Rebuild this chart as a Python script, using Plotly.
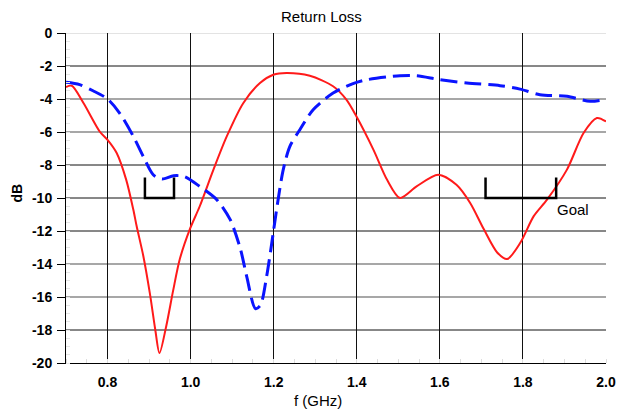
import plotly.graph_objects as go

# Data
red_f = [0.700, 0.714, 0.742, 0.782, 0.800, 0.822, 0.845, 0.862, 0.870, 0.886, 0.902, 0.915,
         0.925, 0.941, 0.958, 0.974, 0.998, 1.022, 1.055, 1.087, 1.127, 1.167, 1.199, 1.231,
         1.287, 1.343, 1.375, 1.399, 1.440, 1.473, 1.504, 1.544, 1.596, 1.640, 1.673,
         1.706, 1.738, 1.762, 1.794, 1.826, 1.858, 1.906, 1.946, 1.978, 2.000]
red_db = [-3.27, -3.2, -4.24, -6.0, -6.47, -7.27, -8.9, -10.7, -11.7, -13.5, -15.8, -18.0,
          -19.4, -17.8, -15.6, -13.7, -11.9, -10.5, -8.28, -6.27, -4.24, -3.03, -2.53, -2.42,
          -2.59, -3.23, -4.04, -5.05, -7.07, -8.9, -10.0, -9.3, -8.59, -9.2, -10.3,
          -11.9, -13.3, -13.7, -12.7, -11.1, -10.1, -8.28, -6.06, -5.15, -5.36]

blue_f = [0.700, 0.733, 0.765, 0.800, 0.829, 0.862, 0.886, 0.910, 0.931, 0.959, 0.985, 1.022,
          1.063, 1.095, 1.120, 1.135, 1.156, 1.168, 1.183, 1.199, 1.207, 1.223, 1.239, 1.263,
          1.295, 1.343, 1.391, 1.425, 1.504, 1.545, 1.600, 1.665, 1.745, 1.793, 1.841, 1.906,
          1.962, 1.995, 2.000]
blue_db = [-2.99, -3.13, -3.5, -4.0, -4.85, -6.26, -7.48, -8.59, -8.85, -8.65, -8.7, -9.3,
           -10.1, -11.3, -13.1, -14.75, -16.7, -16.5, -14.75, -12.1, -10.7, -8.28, -6.87, -5.86,
           -4.65, -3.64, -3.07, -2.83, -2.59, -2.59, -2.83, -3.03, -3.19, -3.4, -3.74, -3.84,
           -4.14, -4.04, -4.0]

goal_ranges = [(0.89, 0.96), (1.71, 1.88)]
goal_level = -10
goal_tick_top = -8.75

x_ticks = [0.8, 1.0, 1.2, 1.4, 1.6, 1.8, 2.0]
x_labels = ["0.8", "1.0", "1.2", "1.4", "1.6", "1.8", "2.0"]
y_ticks = [0, -2, -4, -6, -8, -10, -12, -14, -16, -18, -20]
y_labels = ["0", "-2", "-4", "-6", "-8", "-10", "-12", "-14", "-16", "-18", "-20"]
gray_grid = [-4, -6, -14, -16]
black_grid = [-2, -8, -10, -12, -18]

FONT = "Liberation Sans, Arial, Helvetica"

fig = go.Figure()

shapes = []
for g in black_grid:
    shapes.append(dict(type="line", xref="paper", yref="y", x0=0, x1=1, y0=g, y1=g,
                       line=dict(color="#111111", width=1), layer="below"))
for g in gray_grid:
    shapes.append(dict(type="line", xref="paper", yref="y", x0=0, x1=1, y0=g, y1=g,
                       line=dict(color="#8a8a8a", width=1.5), layer="below"))
shapes.append(dict(type="line", xref="paper", yref="y", x0=0, x1=1, y0=0, y1=0,
                   line=dict(color="#c8c8c8", width=1), layer="below"))

fig.add_trace(go.Scatter(x=red_f, y=red_db, mode="lines",
                         line=dict(color="#ff1a1a", width=2, shape="spline", smoothing=0.8),
                         showlegend=False, hoverinfo="skip"))
fig.add_trace(go.Scatter(x=blue_f, y=blue_db, mode="lines",
                         line=dict(color="#0a14ff", width=3, shape="spline", smoothing=0.8,
                                   dash="17px,7px"),
                         showlegend=False, hoverinfo="skip"))
for (a, b) in goal_ranges:
    fig.add_trace(go.Scatter(x=[a, a, b, b], y=[goal_tick_top, goal_level, goal_level, goal_tick_top],
                             mode="lines", line=dict(color="black", width=2.5),
                             showlegend=False, hoverinfo="skip"))

fig.add_annotation(x=goal_ranges[1][1], y=-10.67, text="Goal", showarrow=False,
                   xanchor="left", yanchor="middle", xshift=-1,
                   font=dict(family=FONT, size=15, color="black"))
fig.add_annotation(xref="paper", yref="paper", x=0.473, y=1.0515, text="Return Loss",
                   showarrow=False, xanchor="center", yanchor="middle",
                   font=dict(family=FONT, size=15, color="black"))
fig.add_annotation(xref="paper", yref="paper", x=0.4667, y=-0.115, text="f (GHz)",
                   showarrow=False, xanchor="center", yanchor="middle",
                   font=dict(family=FONT, size=15, color="black"))
fig.add_annotation(xref="paper", yref="paper", x=-0.0898, y=0.515, text="<b>dB</b>",
                   showarrow=False, xanchor="center", yanchor="middle", textangle=-90,
                   font=dict(family=FONT, size=14, color="black"))

fig.update_layout(
    width=618, height=412,
    margin=dict(l=66, r=12, t=33, b=49),
    paper_bgcolor="white", plot_bgcolor="white",
    shapes=shapes,
    font=dict(family=FONT, color="black"),
    xaxis=dict(range=[0.7, 2.0], tickvals=x_ticks, ticktext=x_labels, automargin=False,
               showgrid=True, gridcolor="#111111", gridwidth=1,
               showline=True, linecolor="black", linewidth=1,
               ticks="", zeroline=False, ticklabelstandoff=6,
               tickfont=dict(family=FONT, size=14, weight="bold"),
               minor=dict(dtick=0.05, tick0=0.7, ticks="inside", ticklen=4, tickcolor="#dddddd",
                          showgrid=False)),
    yaxis=dict(range=[-20, 0], tickvals=y_ticks, ticktext=y_labels, automargin=False,
               showgrid=False, showline=True, linecolor="black", linewidth=1,
               ticks="outside", ticklen=8, tickcolor="black", tickwidth=1,
               zeroline=False, ticklabelstandoff=2,
               tickfont=dict(family=FONT, size=14, weight="bold"),
               minor=dict(dtick=0.5, ticks="inside", ticklen=4, tickcolor="#e6e6e6",
                          showgrid=False)),
)

fig.write_html("out.html")
